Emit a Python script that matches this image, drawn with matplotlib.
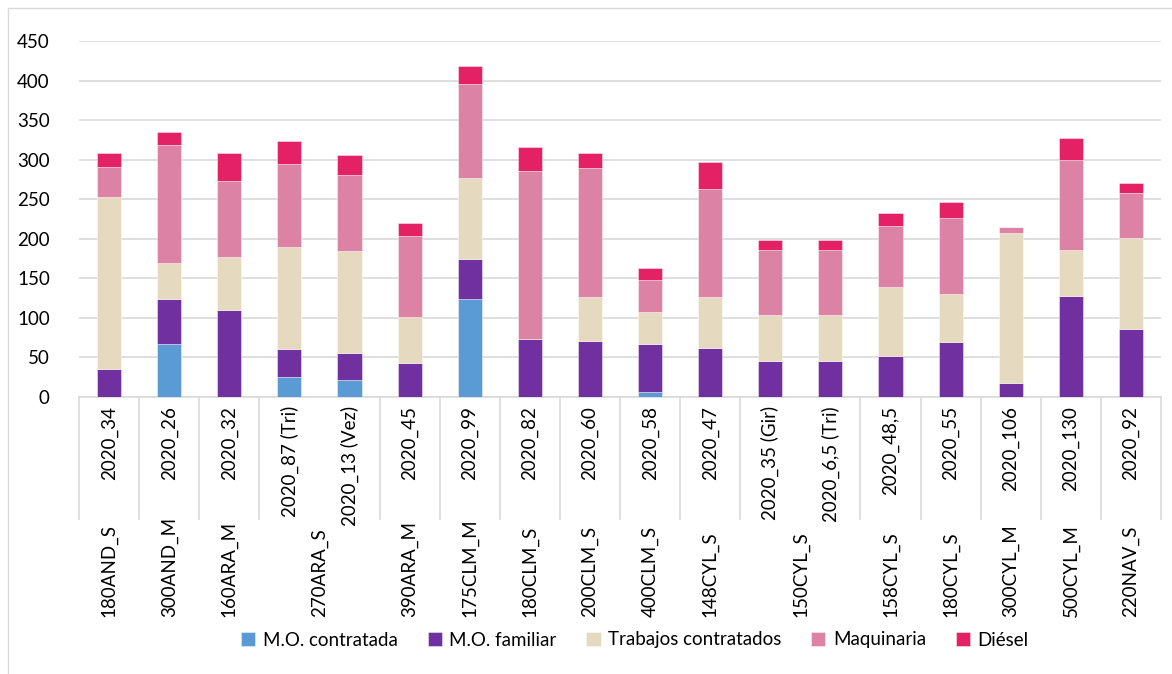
import numpy as np
import matplotlib.pyplot as plt
import matplotlib.transforms as mtransforms
from matplotlib.lines import Line2D

# stacked cost components per farm / year
inner_labels = ["2020_34", "2020_26", "2020_32", "2020_87 (Tri)", "2020_13 (Vez)", "2020_45",
                "2020_99", "2020_82", "2020_60", "2020_58", "2020_47", "2020_35 (Gir)",
                "2020_6,5 (Tri)", "2020_48,5", "2020_55", "2020_106", "2020_130", "2020_92"]
outer_labels = ["180AND_S", "300AND_M", "160ARA_M", "270ARA_S", "390ARA_M", "175CLM_M",
                "180CLM_S", "200CLM_S", "400CLM_S", "148CYL_S", "150CYL_S", "158CYL_S",
                "180CYL_S", "300CYL_M", "500CYL_M", "220NAV_S"]
# number of inner categories in each outer group
outer_span = [1, 1, 1, 2, 1, 1, 1, 1, 1, 1, 2, 1, 1, 1, 1, 1]

mo_contratada = [0, 67, 0, 25, 21, 0, 124, 0, 0, 6, 0, 0, 0, 0, 0, 0, 0, 0]
mo_familiar = [35, 57, 110, 36, 35, 43, 51, 73, 71, 61, 62, 46, 46, 52, 69, 18, 128, 86]
trabajos = [218, 46, 67, 129, 129, 58, 102, 0, 56, 40, 64, 58, 58, 87, 61, 189, 58, 115]
maquinaria = [38, 148, 96, 105, 96, 103, 119, 213, 163, 41, 137, 82, 82, 77, 96, 8, 113, 57]
diesel = [18, 17, 35, 28, 25, 16, 22, 30, 18, 15, 34, 12, 12, 17, 21, 0, 28, 13]

series = [
    ("M.O. contratada", mo_contratada, "#5B9BD5"),
    ("M.O. familiar", mo_familiar, "#7030A0"),
    ("Trabajos contratados", trabajos, "#E5DAC0"),
    ("Maquinaria", maquinaria, "#DC82A4"),
    ("Diésel", diesel, "#E52166"),
]

plt.rcParams['font.family'] = ['Lato', 'DejaVu Sans']
FS = 13.5

W, H = 1172, 674
fig = plt.figure(figsize=(W / 100, H / 100), dpi=100)
ax = fig.add_axes([79 / W, 1 - 397 / H, (1161 - 79) / W, (397 - 41) / H])

x = np.arange(len(inner_labels))
bottom = np.zeros(len(x))
handles = []
for name, vals, color in series:
    vals = np.array(vals, dtype=float)
    b = ax.bar(x, vals, 0.4, bottom=bottom, color=color, edgecolor=(1, 1, 1, 0.5),
               linewidth=0.6, label=name, zorder=3)
    handles.append(b)
    bottom += vals

ax.set_xlim(-0.5, len(x) - 0.5)
ax.set_ylim(0, 450)
ax.set_yticks(np.arange(0, 451, 50))
ax.yaxis.grid(True, color="#D9D9D9", linewidth=1.2, zorder=0)
ax.set_xticks([])
for s in ["top", "right", "left"]:
    ax.spines[s].set_visible(False)
ax.spines["bottom"].set_color("#D9D9D9")
ax.spines["bottom"].set_linewidth(1.2)
ax.tick_params(axis="y", length=0, pad=21, labelsize=FS, labelcolor="#000000")

# two level category axis
trans = mtransforms.blended_transform_factory(ax.transData, fig.transFigure)
y_top = 1 - 397 / H
y_sep = 1 - 519 / H
for i, lab in enumerate(inner_labels):
    ax.text(i, 1 - 406 / H, lab, transform=trans, rotation=90, ha="center", va="top",
            fontsize=FS, color="#000000")

edges = [-0.5]
pos = 0
for lab, n in zip(outer_labels, outer_span):
    center = pos + (n - 1) / 2
    ax.text(center, 1 - 617 / H, lab, transform=trans, rotation=90, ha="center",
            va="bottom", fontsize=FS, color="#000000")
    pos += n
    edges.append(pos - 0.5)
for e in edges:
    fig.add_artist(Line2D([e, e], [y_top, y_sep], transform=trans, color="#D9D9D9",
                          linewidth=1.2, clip_on=False))

fig.legend(handles=handles, loc="center", bbox_to_anchor=(635 / W, 1 - 640 / H),
           ncol=5, frameon=False, fontsize=FS, handlelength=0.75, handleheight=0.75,
           handletextpad=0.4, columnspacing=1.6)

# chart frame
fig.add_artist(Line2D([8 / W, 8 / W], [0, 1 - 8 / H], transform=fig.transFigure,
                      color="#D9D9D9", linewidth=1))
fig.add_artist(Line2D([8 / W, 1], [1 - 8 / H, 1 - 8 / H], transform=fig.transFigure,
                      color="#D9D9D9", linewidth=1))

fig.savefig("out.png", dpi=100)
